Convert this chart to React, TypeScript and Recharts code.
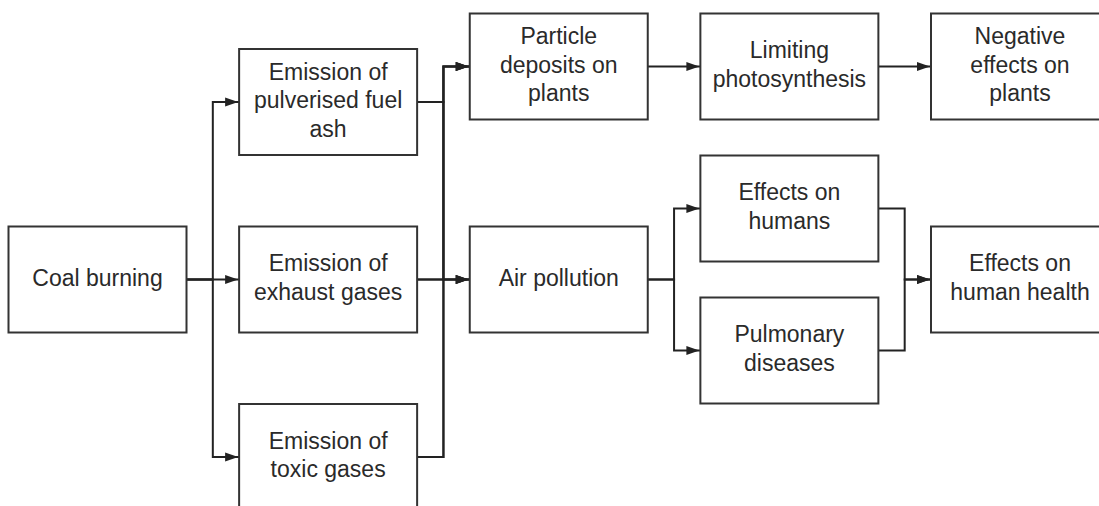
import { Scatter, ScatterChart, XAxis, YAxis } from 'recharts';

// nodes of the flow diagram: label lines, column (step) and vertical level
const nodeLabels = [
  ['Coal burning'],
  ['Emission of', 'pulverised fuel', 'ash'],
  ['Emission of', 'exhaust gases'],
  ['Emission of', 'toxic gases'],
  ['Particle', 'deposits on', 'plants'],
  ['Air pollution'],
  ['Limiting', 'photosynthesis'],
  ['Effects on', 'humans'],
  ['Pulmonary', 'diseases'],
  ['Negative', 'effects on', 'plants'],
  ['Effects on', 'human health'],
];
const nodeColumns = [0, 1, 1, 1, 2, 2, 3, 3, 3, 4, 4];
const nodeLevels = [0, 2.5, 0, -2.5, 3, 0, 3, 1, -1, 3, 0];

// connections (index into the node arrays)
const edgeSources = [0, 0, 0, 1, 1, 2, 2, 3, 3, 4, 6, 5, 5, 7, 8];
const edgeTargets = [1, 2, 3, 4, 5, 4, 5, 4, 5, 6, 9, 7, 8, 10, 10];

const WIDTH = 1099;
const HEIGHT = 506;
const BOX_W = 178;
const BOX_H = 106;
const LINE_GAP = 28.5;
const INK = '#222';

const nodeData = nodeLabels.map((lines, i) => ({
  x: nodeColumns[i],
  y: nodeLevels[i],
  lines,
}));

const edgeData = edgeSources.map((s, i) => {
  const t = edgeTargets[i];
  const mid = nodeColumns[s] + (nodeColumns[t] - nodeColumns[s]) / 2;
  return [
    { x: nodeColumns[s], y: nodeLevels[s], end: false },
    { x: mid, y: nodeLevels[s], end: false },
    { x: mid, y: nodeLevels[t], end: false },
    { x: nodeColumns[t], y: nodeLevels[t], end: true },
  ];
});

function NodeBox(props: any) {
  const { cx, cy, payload } = props;
  const lines: string[] = payload.lines;
  const n = lines.length;
  return (
    <g>
      <rect
        x={cx - BOX_W / 2}
        y={cy - BOX_H / 2}
        width={BOX_W}
        height={BOX_H}
        fill="#fff"
        stroke="#333"
        strokeWidth={2}
      />
      <text
        textAnchor="middle"
        fontFamily="'Liberation Sans', Arial, sans-serif"
        fontSize={23}
        fill="#2a2a2a"
      >
        {lines.map((line, i) => (
          <tspan key={i} x={cx} y={cy + (i - (n - 1) / 2) * LINE_GAP + 6}>
            {line}
          </tspan>
        ))}
      </text>
    </g>
  );
}

function ArrowHead(props: any) {
  const { cx, cy, payload } = props;
  if (!payload.end) return <g />;
  const tip = cx - BOX_W / 2 - 1;
  return (
    <polygon
      points={`${tip},${cy} ${tip - 13},${cy - 4.5} ${tip - 13},${cy + 4.5}`}
      fill={INK}
    />
  );
}

export default function App() {
  return (
    <div style={{ width: WIDTH, height: HEIGHT, overflow: 'hidden', background: '#fff' }}>
      <style>{'body{margin:0;}'}</style>
      <ScatterChart
        width={WIDTH}
        height={HEIGHT}
        margin={{ top: 66.5, right: 79, bottom: 49, left: 97.5 }}
      >
        <XAxis type="number" dataKey="x" domain={[0, 4]} hide />
        <YAxis type="number" dataKey="y" domain={[-2.5, 3]} hide />
        {edgeData.map((points, i) => (
          <Scatter
            key={`edge-${i}`}
            data={points}
            line={{ stroke: INK, strokeWidth: 2 }}
            shape={<ArrowHead />}
            legendType="none"
            isAnimationActive={false}
          />
        ))}
        <Scatter
          data={nodeData}
          shape={<NodeBox />}
          legendType="none"
          isAnimationActive={false}
        />
      </ScatterChart>
    </div>
  );
}
